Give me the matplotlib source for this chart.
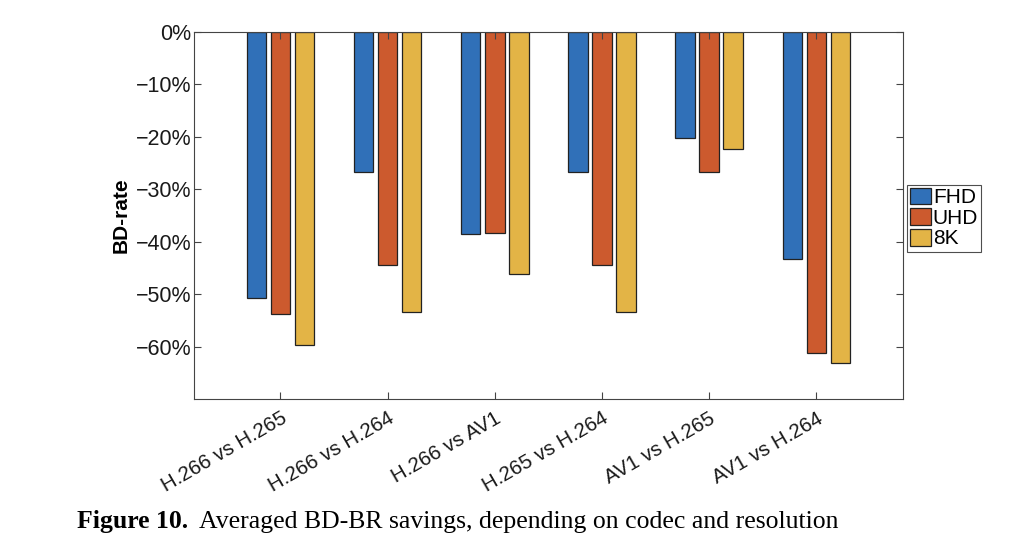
import matplotlib.pyplot as plt
import numpy as np

plt.rcParams['font.family'] = ['Liberation Sans', 'DejaVu Sans']

pairs = ['H.266 vs H.265', 'H.266 vs H.264', 'H.266 vs AV1',
         'H.265 vs H.264', 'AV1 vs H.265', 'AV1 vs H.264']
fhd = [-50.7, -26.7, -38.6, -26.7, -20.2, -43.2]
uhd = [-53.8, -44.5, -38.3, -44.5, -26.6, -61.3]
k8 = [-59.7, -53.3, -46.2, -53.3, -22.4, -63.2]
series = ['FHD', 'UHD', '8K']
colors = ['#3070B8', '#CC5A2E', '#E3B446']

fig = plt.figure(figsize=(10.24, 5.52), dpi=100)
ax = fig.add_axes([0.189, 0.277, 0.693, 0.665])

x = np.arange(1, len(pairs) + 1)
off = 0.224
w = 0.182
for i, (vals, name) in enumerate(zip([fhd, uhd, k8], series)):
    ax.bar(x + (i - 1) * off, vals, w, color=colors[i], edgecolor='#222222',
           linewidth=0.9, label=name)

ax.set_xlim(0.19, 6.81)
ax.set_ylim(-70, 0)
ax.set_yticks(np.arange(-60, 1, 10))
ax.set_yticklabels(['\u2212%d%%' % -v if v else '0%' for v in range(-60, 1, 10)])
ax.set_xticks(x)
ax.set_xticklabels(pairs, rotation=30, ha='right', rotation_mode='anchor')
ax.tick_params(direction='in', top=True, right=True, length=5, width=0.8,
               color='#444444', labelcolor='#1a1a1a')
ax.tick_params(axis='y', labelsize=15.5, pad=1.5)
ax.tick_params(axis='x', labelsize=14.8, pad=7)
for s in ax.spines.values():
    s.set_color('#444444')
    s.set_linewidth(0.8)
ax.set_ylabel('BD-rate', fontsize=15, fontweight='bold', labelpad=4)

leg = ax.legend(loc='center left', bbox_to_anchor=(1.005, 0.493), fontsize=15,
                frameon=True, fancybox=False, edgecolor='#222222',
                handlelength=1.0, handleheight=0.85, handletextpad=0.1,
                borderpad=0.15, labelspacing=0.05, borderaxespad=0)
leg.get_frame().set_linewidth(0.8)

fig.text(0.075, 0.043, 'Figure 10.', fontsize=18.5, fontweight='bold',
         family='Liberation Serif')
fig.text(0.194, 0.043, 'Averaged BD-BR savings, depending on codec and resolution',
         fontsize=18.5, family='Liberation Serif')

fig.savefig('out.png', dpi=100)
